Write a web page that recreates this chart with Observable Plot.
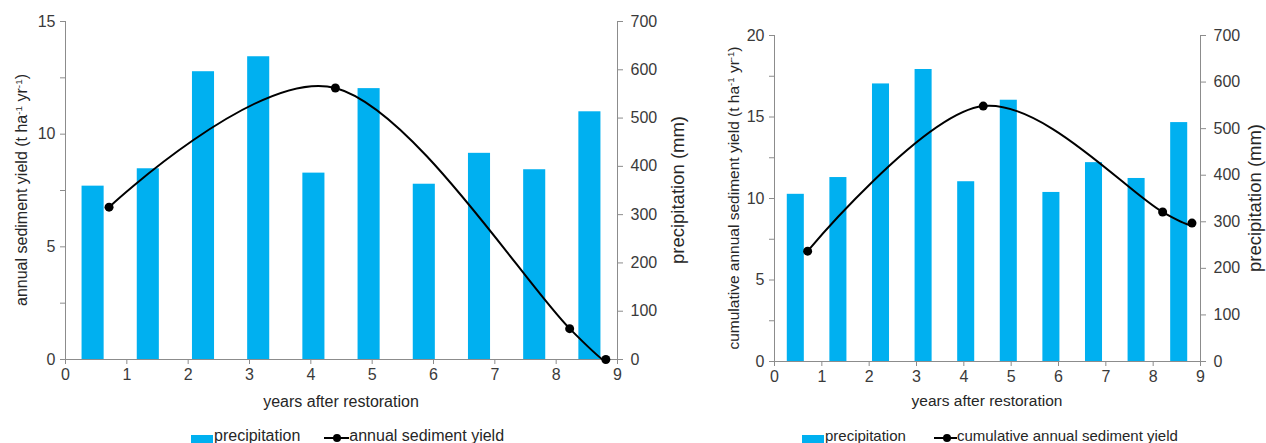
<!DOCTYPE html>
<html>
<head>
<meta charset="utf-8">
<script src="https://cdn.jsdelivr.net/npm/d3@7"></script>
<script src="https://cdn.jsdelivr.net/npm/@observablehq/plot@0.6"></script>
<style>
  body { margin: 0; background: #fff; font-family: "Liberation Sans", Arial, sans-serif; }
  #wrap { position: relative; width: 1266px; height: 443px; overflow: hidden; }
  .panel { position: absolute; top: 0; }
  .legend { position: absolute; top: 427px; font-size: 16px; line-height: 18px; color: #262626; white-space: nowrap; height: 18px; }
  .legend > * { position: relative; display: inline-block; vertical-align: top; }
  .sw-bar { width: 22px; height: 10px; background: #00B0F0; margin-right: 1px; top: 8px; }
  .sw-line { width: 25px; height: 10px; top: 6px; }
  .sw-line::before { content: ""; position: absolute; left: 0; right: 0; top: 4px; height: 2px; background: #000; }
  .sw-line::after { content: ""; position: absolute; left: 9px; top: 1px; width: 8px; height: 8px; border-radius: 50%; background: #000; }
</style>
</head>
<body>
<div id="wrap">
  <div id="p1" class="panel" style="left:0px"></div>
  <div id="p2" class="panel" style="left:700px"></div>
  <div class="legend" style="left:191px"><span class="sw-bar"></span><span>precipitation</span><span style="width:24px"></span><span class="sw-line"></span><span>annual sediment yield</span></div>
  <div class="legend" style="left:802px;font-size:15px"><span class="sw-bar"></span><span>precipitation</span><span style="width:28px"></span><span class="sw-line" style="width:23px"></span><span>cumulative annual sediment yield</span></div>
</div>
<script>
// ---- data ----
const barYears = [0.45, 1.35, 2.25, 3.15, 4.05, 4.95, 5.85, 6.75, 7.65, 8.55];
const precipitation = [359, 395, 596, 627, 386, 561, 363, 427, 393, 513];
const annualX = [0.71, 4.40, 8.22, 8.81];
const annualYield = [6.76, 12.05, 1.37, 0];
const cumX = [0.70, 4.41, 8.20, 8.82];
const cumYield = [6.77, 15.67, 9.17, 8.49];
const xTicks = [0, 1, 2, 3, 4, 5, 6, 7, 8, 9];
const precipTicks = [0, 100, 200, 300, 400, 500, 600, 700];
const leftTicks1 = [0, 5, 10, 15];
const leftTicks2 = [0, 5, 10, 15, 20];

const GRAY = "#8c8c8c";
const TXT = "#3a3a3a";

function panel(cfg) {
  const k = cfg.yMax / 700;
  const bars = barYears.map((x, i) => ({x, p: precipitation[i]}));
  const pts = cfg.lineX.map((x, i) => ({x, y: cfg.lineY[i]}));
  const minor = d3.range(2.5, cfg.yMax, 5);
  const plot = Plot.plot({
    width: cfg.width,
    height: cfg.height,
    marginLeft: cfg.ml, marginRight: cfg.mr, marginTop: cfg.mt, marginBottom: cfg.mb,
    style: {fontSize: "16px", fontFamily: "Liberation Sans, Arial, sans-serif", color: TXT, background: "#fff"},
    x: {domain: [0, 9]},
    y: {domain: [0, cfg.yMax]},
    marks: [
      Plot.rectY(bars, {x1: d => d.x - 0.18, x2: d => d.x + 0.18, y1: 0, y2: d => d.p * k, fill: "#00B0F0"}),
      Plot.ruleY([0], {stroke: GRAY, strokeWidth: 1}),
      Plot.ruleX([0], {stroke: GRAY, strokeWidth: 1}),
      Plot.ruleX([9], {stroke: GRAY, strokeWidth: 1}),
      Plot.axisX(xTicks, {tickSize: 5, tickPadding: 4, stroke: GRAY, fill: TXT, fontSize: 16, label: null, tickFormat: d => d}),
      Plot.axisY(cfg.leftTicks, {anchor: "left", tickSize: 5, tickPadding: 5, stroke: GRAY, fill: TXT, fontSize: 16, label: null, tickFormat: d => d}),
      Plot.axisY(minor, {anchor: "left", tickSize: 5, stroke: GRAY, label: null, tickFormat: () => ""}),
      Plot.axisY(precipTicks.map(v => v * k), {anchor: "right", tickSize: 5, tickPadding: 8, stroke: GRAY, fill: TXT, fontSize: 16, label: null, tickFormat: d => Math.round(d / k)}),
      Plot.line(pts, {x: "x", y: "y", curve: "cardinal", tension: 0, stroke: "#000", strokeWidth: 2}),
      Plot.dot(pts, {x: "x", y: "y", r: 4.5, fill: "#000"})
    ]
  });
  const svg = d3.select(plot);
  const plotLeft = cfg.ml, plotRight = cfg.width - cfg.mr;
  const cy = (cfg.mt + cfg.height - cfg.mb) / 2;
  // x title
  svg.append("text").attr("x", (plotLeft + plotRight) / 2).attr("y", cfg.xTitleY)
    .attr("text-anchor", "middle").attr("fill", "#262626").attr("font-size", cfg.xTitleSize).text("years after restoration");
  // left title with superscripts
  const t = svg.append("text").attr("transform", `translate(${cfg.leftTitleX},${cy}) rotate(-90)`)
    .attr("text-anchor", "middle").attr("fill", "#262626").attr("font-size", cfg.leftTitleSize);
  t.append("tspan").text(cfg.leftTitle + " (t ha");
  t.append("tspan").attr("baseline-shift", "super").attr("font-size", cfg.leftTitleSize * 0.62).text("-1");
  t.append("tspan").text(" yr");
  t.append("tspan").attr("baseline-shift", "super").attr("font-size", cfg.leftTitleSize * 0.62).text("-1");
  t.append("tspan").text(")");
  // right title
  svg.append("text").attr("transform", `translate(${cfg.rightTitleX},${cy}) rotate(-90)`)
    .attr("text-anchor", "middle").attr("fill", "#262626").attr("font-size", 18.5).text("precipitation (mm)");
  return plot;
}

document.getElementById("p1").appendChild(panel({
  width: 700, height: 420, ml: 65, mr: 83, mt: 21, mb: 61,
  yMax: 15, leftTicks: leftTicks1, lineX: annualX, lineY: annualYield,
  leftTitle: "annual sediment yield", leftTitleX: 27, leftTitleSize: 16, rightTitleX: 684,
  xTitleY: 407, xTitleSize: 16
}));
document.getElementById("p2").appendChild(panel({
  width: 566, height: 420, ml: 74, mr: 66, mt: 35, mb: 59,
  yMax: 20, leftTicks: leftTicks2, lineX: cumX, lineY: cumYield,
  leftTitle: "cumulative annual sediment yield", leftTitleX: 39, leftTitleSize: 15.5, rightTitleX: 561,
  xTitleY: 406, xTitleSize: 15.5
}));
</script>
</body>
</html>
